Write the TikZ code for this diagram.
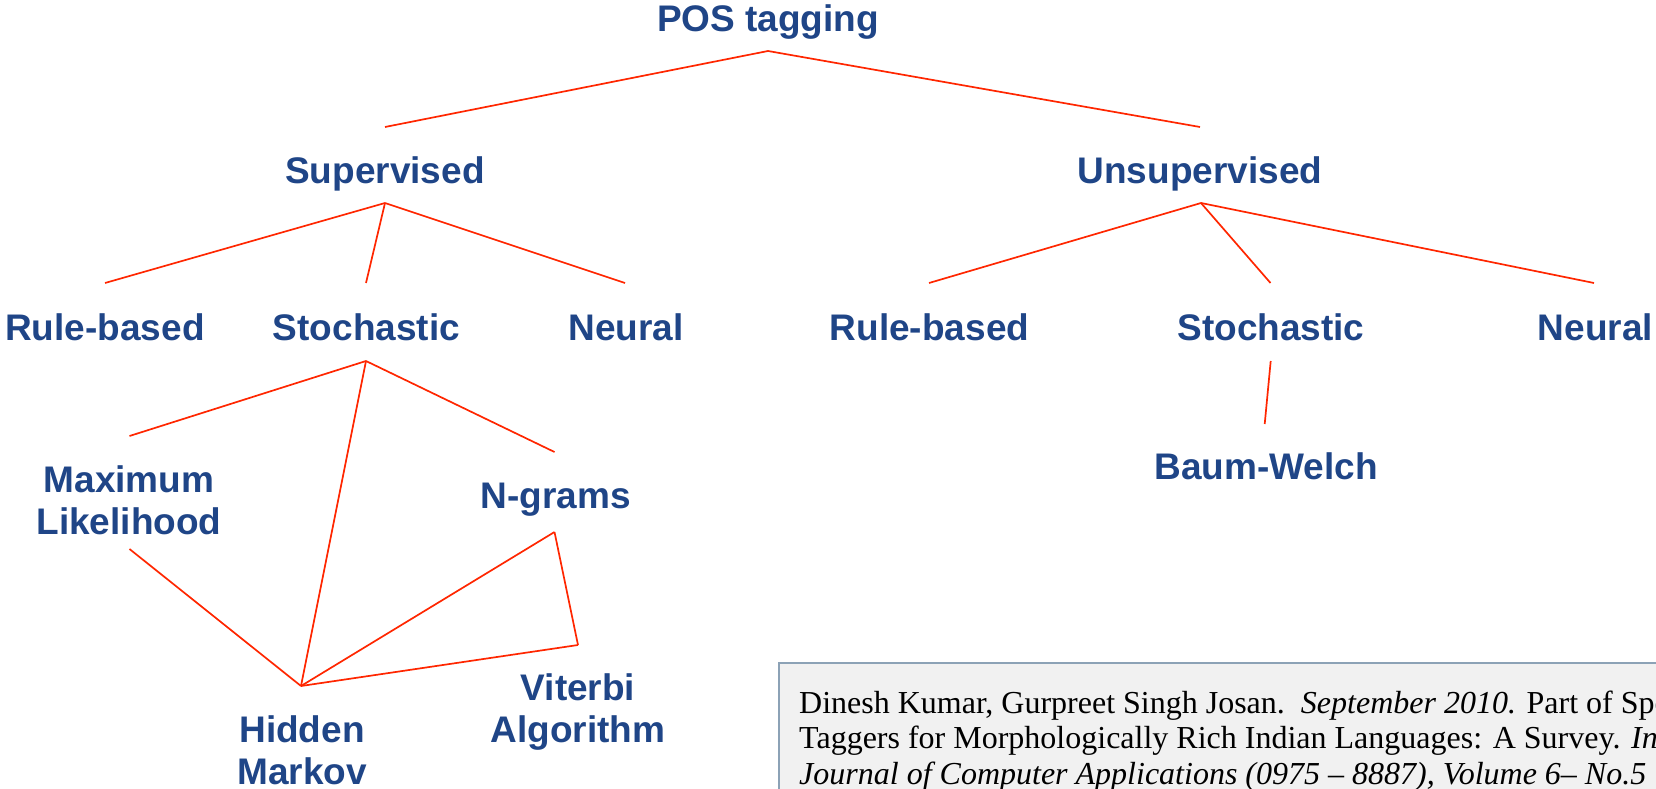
\documentclass[tikz,border=0pt]{standalone}
\usepackage{fontspec}
\setmainfont{Liberation Sans}
\newfontfamily\citefont{Liberation Serif}

\definecolor{labelblue}{RGB}{31,69,135}
\definecolor{edgered}{RGB}{255,38,0}
\definecolor{notefill}{RGB}{241,241,241}
\definecolor{noteborder}{RGB}{140,162,182}

% two centred lines whose first baseline is the node's baseline
\newcommand\stacklabel[2]{\begin{tabular}[t]{@{}c@{}}#1\\#2\end{tabular}}

\begin{document}
\begin{tikzpicture}[x=1pt,y=-1pt,
  lbl/.style={anchor=base, inner sep=0pt, text=labelblue,
    font=\fontsize{37}{42.5}\selectfont\bfseries},
  citeline/.style={anchor=base west, inner sep=0pt,
    font=\citefont\fontsize{32}{35}\selectfont},
  edge/.style={draw=edgered, line width=1.7pt},
  note/.style={draw=noteborder, fill=notefill, line width=2pt},
]
\useasboundingbox (0,0) rectangle (1656,789);
\clip (0,0) rectangle (1656,789);

% reference note in the lower right corner
\path[note] (779,663) rectangle (1700,830);
\node[citeline] (cite1) at (799,713)
  {Dinesh Kumar, Gurpreet Singh Josan.\ \ \textit{September 2010.} Part of Spe};
\node[citeline] (cite2) at (799,748.5)
  {Taggers for Morphologically Rich Indian Languages: A Survey. \textit{In}};
\node[citeline] (cite3) at (799,784)
  {\textit{Journal of Computer Applications (0975 – 8887), Volume 6– No.5}};

% taxonomy labels
\node[lbl] (pos)   at (768,32)    {POS tagging};
\node[lbl] (sup)   at (385,183)   {Supervised};
\node[lbl] (uns)   at (1200,183)  {Unsupervised};
\node[lbl] (srule) at (105,340)   {Rule-based};
\node[lbl] (ssto)  at (366.5,340) {Stochastic};
\node[lbl] (sneu)  at (626,340)   {Neural};
\node[lbl] (urule) at (929.5,340) {Rule-based};
\node[lbl] (usto)  at (1271,340)  {Stochastic};
\node[lbl] (uneu)  at (1595.5,340){Neural};
\node[lbl] (ml)    at (129,492)   {\stacklabel{Maximum}{Likelihood}};
\node[lbl] (ng)    at (556,508)   {N-grams};
\node[lbl] (vit)   at (578,700)   {\stacklabel{Viterbi}{Algorithm}};
\node[lbl] (hmm)   at (302,742)   {\stacklabel{Hidden}{Markov}};
\node[lbl] (bw)    at (1266,479)  {Baum-Welch};

% connector end points just above / below each label
\coordinate (pos-b)   at (768,51);
\coordinate (sup-t)   at (385,127);
\coordinate (uns-t)   at (1200,127);
\coordinate (sup-b)   at (385,203);
\coordinate (srule-t) at (105,283);
\coordinate (ssto-t)  at (366,283);
\coordinate (sneu-t)  at (625,283);
\coordinate (uns-b)   at (1201,203);
\coordinate (urule-t) at (929,283);
\coordinate (usto-t)  at (1270.5,283);
\coordinate (uneu-t)  at (1594,283);
\coordinate (ssto-b)  at (366,361);
\coordinate (ml-t)    at (129.5,436);
\coordinate (ml-b)    at (129.5,549);
\coordinate (ng-t)    at (554.5,452);
\coordinate (ng-b)    at (554.5,532);
\coordinate (vit-t)   at (578,645);
\coordinate (hmm-t)   at (301,686);
\coordinate (usto-b)  at (1270.7,361);
\coordinate (bw-t)    at (1264.7,424);

% tree edges
\draw[edge] (sup-t) -- (pos-b) -- (uns-t);
\draw[edge] (sup-b) -- (srule-t);
\draw[edge] (sup-b) -- (ssto-t);
\draw[edge] (sup-b) -- (sneu-t);
\draw[edge] (uns-b) -- (urule-t);
\draw[edge] (uns-b) -- (usto-t);
\draw[edge] (uns-b) -- (uneu-t);
\draw[edge] (ssto-b) -- (ml-t);
\draw[edge] (ssto-b) -- (hmm-t);
\draw[edge] (ssto-b) -- (ng-t);
\draw[edge] (ml-b) -- (hmm-t);
\draw[edge] (ng-b) -- (hmm-t);
\draw[edge] (ng-b) -- (vit-t);
\draw[edge] (vit-t) -- (hmm-t);
\draw[edge] (usto-b) -- (bw-t);
\end{tikzpicture}
\end{document}
